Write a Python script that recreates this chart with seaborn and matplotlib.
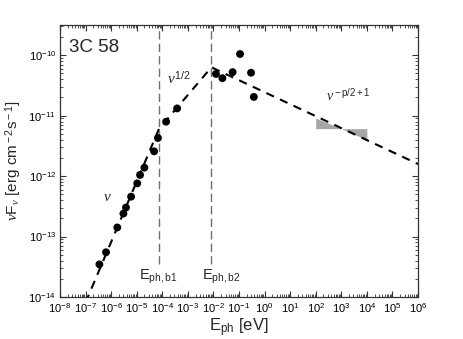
import numpy as np
import pandas as pd
import matplotlib
matplotlib.use('Agg')
import matplotlib.pyplot as plt
import seaborn as sns
from matplotlib.ticker import LogLocator

# dados (3C 58)
e_ph = [10**-6.46, 10**-6.20, 10**-5.76, 10**-5.52, 10**-5.42, 10**-5.22,
        10**-4.98, 10**-4.87, 10**-4.70, 10**-4.32, 10**-4.17, 10**-3.85,
        10**-3.42, 10**-1.90, 10**-1.65, 10**-1.25, 10**-0.96, 10**-0.53,
        10**-0.42]
nufnu = [10**-13.46, 10**-13.26, 10**-12.85, 10**-12.62, 10**-12.52, 10**-12.34,
         10**-12.12, 10**-11.98, 10**-11.86, 10**-11.59, 10**-11.37, 10**-11.10,
         10**-10.88, 10**-10.31, 10**-10.38, 10**-10.28, 10**-9.98, 10**-10.29,
         10**-10.69]

# lei de potencia quebrada
modelo_e = [1e-7, 10**-4.13, 10**-2.08, 1e6]
modelo_f = [10**-14.09, 10**-11.22, 10**-10.20, 10**-11.80]

# quebras
e_b1 = 10**-4.13
e_b2 = 10**-2.08

# gravata (raio X)
gravata_e = [1e2, 1e3, 1e4]
gravata_a = [10**-11.04, 10**-11.215, 10**-11.40]
gravata_b = [10**-11.215, 10**-11.215, 10**-11.215]

sns.set_style('ticks')
plt.rcParams['font.family'] = ['Liberation Sans', 'DejaVu Sans']
plt.rcParams['mathtext.fontset'] = 'custom'
plt.rcParams['mathtext.rm'] = 'Liberation Sans'
plt.rcParams['mathtext.sf'] = 'Liberation Sans'
plt.rcParams['mathtext.it'] = 'Liberation Serif:italic'

fig = plt.figure(figsize=(4.63, 3.39), dpi=100)
ax = fig.add_axes([0.1296, 0.1239, 0.7732, 0.8024])

df = pd.DataFrame({'E': e_ph, 'F': nufnu})

ax.set_xscale('log')
ax.set_yscale('log')

ax.fill_between(gravata_e, gravata_a, gravata_b, color='#a6a6a6', lw=0, zorder=1)
ax.plot(modelo_e, modelo_f, color='black', lw=1.5, ls=(0, (4, 3.2)), zorder=2)
ax.vlines([e_b1, e_b2], 10**-13.45, 10**-9.5, color='#707070', lw=1.0,
          linestyles=(0, (6, 3)), zorder=1)
sns.scatterplot(data=df, x='E', y='F', ax=ax, color='black', s=32,
                edgecolor='none', zorder=3, legend=False)

ax.set_xlim(1e-8, 1e6)
ax.set_ylim(1e-14, 10**-9.5)

ax.xaxis.set_major_locator(LogLocator(base=10, numticks=30))
ax.xaxis.set_minor_locator(LogLocator(base=10, subs=np.arange(2, 10), numticks=30))
ax.yaxis.set_major_locator(LogLocator(base=10, numticks=30))
ax.yaxis.set_minor_locator(LogLocator(base=10, subs=np.arange(2, 10), numticks=30))

ax.tick_params(which='both', direction='in', top=True, right=True,
               labelsize=8, pad=3, colors='#333333', labelcolor='black')
ax.tick_params(which='major', length=4, width=0.8)
ax.tick_params(which='minor', length=2, width=0.6)
for s in ax.spines.values():
    s.set_linewidth(0.9)
    s.set_color('#333333')

ax.set_xlabel(r'E$_{\rm ph}$ [eV]', fontsize=12, labelpad=1)
ax.set_ylabel(r'$\nu$F$_\nu$ [erg cm$^{\rm -2}$s$^{\rm -1}$]', fontsize=11, labelpad=3)

ax.text(0.026, 0.902, '3C 58', transform=ax.transAxes, fontsize=13.5)
ax.text(10**-6.32, 10**-12.35, r'$\nu$', fontsize=11, ha='left', va='center')
ax.text(10**-3.83, 10**-10.48, r'$\nu^{\rm 1/2}$', fontsize=11)
ax.text(10**2.39, 10**-10.77, r'$\nu^{\rm -p/2+1}$', fontsize=10)
ax.text(10**-4.90, 10**-13.71, r'E$_{\rm ph,b1}$', fontsize=10.5)
ax.text(10**-2.46, 10**-13.71, r'E$_{\rm ph,b2}$', fontsize=10.5)

fig.savefig('out.png', dpi=100)
